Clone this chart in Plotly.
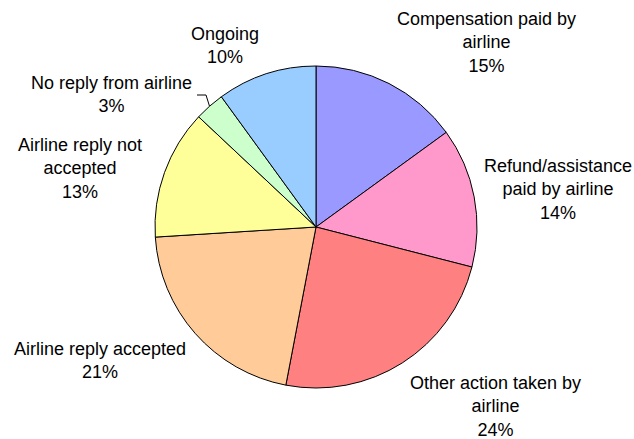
import math
import plotly.graph_objects as go

# Outcome of complaints handled, share of cases (%)
categories = [
    "Compensation paid by<br>airline",
    "Refund/assistance<br>paid by airline",
    "Other action taken by<br>airline",
    "Airline reply accepted",
    "Airline reply not<br>accepted",
    "No reply from airline",
    "Ongoing",
]
shares = [15, 14, 24, 21, 13, 3, 10]
colors = ["#9999FF", "#FF99CC", "#FF8080", "#FFCC99", "#FFFF99", "#CCFFCC", "#99CCFF"]

W, H = 634, 439
CX, CY, R = 316, 227, 161  # pie centre and radius in pixels


def px(x):
    return x / W


def py(y):
    return 1 - y / H


fig = go.Figure(
    go.Pie(
        labels=categories,
        values=shares,
        marker=dict(colors=colors, line=dict(color="black", width=1)),
        sort=False,
        direction="clockwise",
        rotation=0,
        textinfo="none",
        hoverinfo="label+percent",
        domain=dict(x=[px(CX - R), px(CX + R)], y=[py(CY + R), py(CY - R)]),
        showlegend=False,
    )
)

# label anchor points (pixel centres of each text block)
label_pos = [
    (486, 42),
    (558, 189),
    (495, 406),
    (100, 360),
    (80, 169),
    (111, 94),
    (225, 45),
]

total = sum(shares)
annotations = []
for name, val, (lx, ly) in zip(categories, shares, label_pos):
    pct = round(100 * val / total)
    annotations.append(
        dict(
            x=px(lx), y=py(ly), xref="paper", yref="paper",
            text=f"{name}<br>{pct}%", showarrow=False,
            xanchor="center", yanchor="middle", align="center",
            font=dict(family="Liberation Sans, Arial, sans-serif", size=18, color="black"),
        )
    )

# leader line for the small "No reply" slice
start = sum(shares[:5]) / total
end = sum(shares[:6]) / total
mid = 2 * math.pi * (start + end) / 2
ex, ey = CX + R * math.sin(mid), CY - R * math.cos(mid)
leader = dict(
    type="path", xref="paper", yref="paper",
    path=f"M {px(197)} {py(95)} L {px(206)} {py(95)} L {px(ex)} {py(ey)}",
    line=dict(color="black", width=1),
)

fig.update_layout(
    width=W, height=H,
    margin=dict(l=0, r=0, t=0, b=0),
    paper_bgcolor="white", plot_bgcolor="white",
    annotations=annotations,
    shapes=[leader],
)

fig.write_html("out.html")
